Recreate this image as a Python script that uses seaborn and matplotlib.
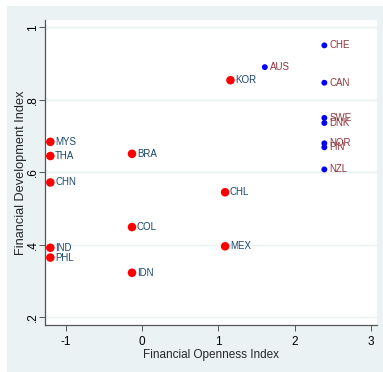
import matplotlib
matplotlib.use("Agg")
import matplotlib.pyplot as plt
import seaborn as sns
import pandas as pd
from matplotlib import font_manager
from matplotlib.patches import Rectangle

# Data
countries = ["MYS", "THA", "CHN", "IND", "PHL", "BRA", "COL", "IDN", "CHL", "MEX", "KOR",
             "AUS", "CHE", "CAN", "SWE", "DNK", "NOR", "FIN", "NZL"]
openness = [-1.20, -1.20, -1.20, -1.20, -1.20, -0.13, -0.13, -0.13, 1.09, 1.09, 1.16,
            1.61, 2.39, 2.39, 2.39, 2.39, 2.39, 2.39, 2.39]
development = [0.684, 0.645, 0.572, 0.392, 0.365, 0.651, 0.449, 0.323, 0.545, 0.396, 0.854,
               0.890, 0.950, 0.847, 0.750, 0.736, 0.680, 0.669, 0.608]
group = ["emerging"] * 11 + ["advanced"] * 8

df = pd.DataFrame({"country": countries, "x": openness, "y": development, "group": group})

sns.set_style("white")
plt.rcParams["font.family"] = ["Liberation Sans", "DejaVu Sans"]

# narrow font for horizontal text if it is around
try:
    font_manager.findfont(font_manager.FontProperties(family="Liberation Sans Narrow"),
                          fallback_to_default=False)
    narrow = ["Liberation Sans Narrow", "Liberation Sans"]
    has_narrow = True
except ValueError:
    narrow = ["Liberation Sans", "DejaVu Sans"]
    has_narrow = False

fig = plt.figure(figsize=(3.83, 3.72), dpi=100)
fig.patch.set_facecolor("white")
fig.patches.append(Rectangle((7 / 383, 0), 1, 1 - 6 / 372, transform=fig.transFigure,
                             facecolor="#eaf2f3", edgecolor="none", zorder=-10))
ax = fig.add_axes([45 / 383, 1 - 325 / 372, 332 / 383, 305 / 372])
ax.set_facecolor("white")

sns.scatterplot(data=df, x="x", y="y", hue="group", size="group",
                palette={"emerging": "#ff0000", "advanced": "#0000ff"},
                sizes={"emerging": 38, "advanced": 18},
                linewidth=0, legend=False, ax=ax, zorder=3)

label_colors = {"emerging": "#1a476f", "advanced": "#90353b"}
for _, r in df.iterrows():
    ax.annotate(r["country"], (r["x"], r["y"]), xytext=(3.5, 0), textcoords="offset points",
                va="center", ha="left", fontsize=7.5 if has_narrow else 7,
                family=narrow, color=label_colors[r["group"]], zorder=4)

ax.set_xlim(-1.27, 3.08)
ax.set_ylim(0.179, 1.02)
ax.set_xticks([-1, 0, 1, 2, 3])
ax.set_xticklabels(["-1", "0", "1", "2", "3"], family=narrow)
ax.set_yticks([0.2, 0.4, 0.6, 0.8, 1.0])
ax.set_yticklabels([".2", ".4", ".6", ".8", "1"], rotation=90, va="center")
ax.yaxis.grid(True, color="#eaf2f3", linewidth=1)
ax.xaxis.grid(False)
ax.set_axisbelow(True)

for s in ["top", "right"]:
    ax.spines[s].set_visible(False)
for s in ["left", "bottom"]:
    ax.spines[s].set_color("#555555")
    ax.spines[s].set_linewidth(0.9)
ax.tick_params(axis="both", direction="out", length=4, width=0.7, color="#555555",
               labelsize=8.5, labelcolor="black", left=True, bottom=True)
ax.tick_params(axis="x", pad=4)
ax.tick_params(axis="y", pad=0.5)

ax.set_xlabel("Financial Openness Index", fontsize=8.5, family=narrow, labelpad=0.5)
ax.set_ylabel("Financial Development Index", fontsize=9.2, labelpad=-0.5)

fig.savefig("out.png", dpi=100)
